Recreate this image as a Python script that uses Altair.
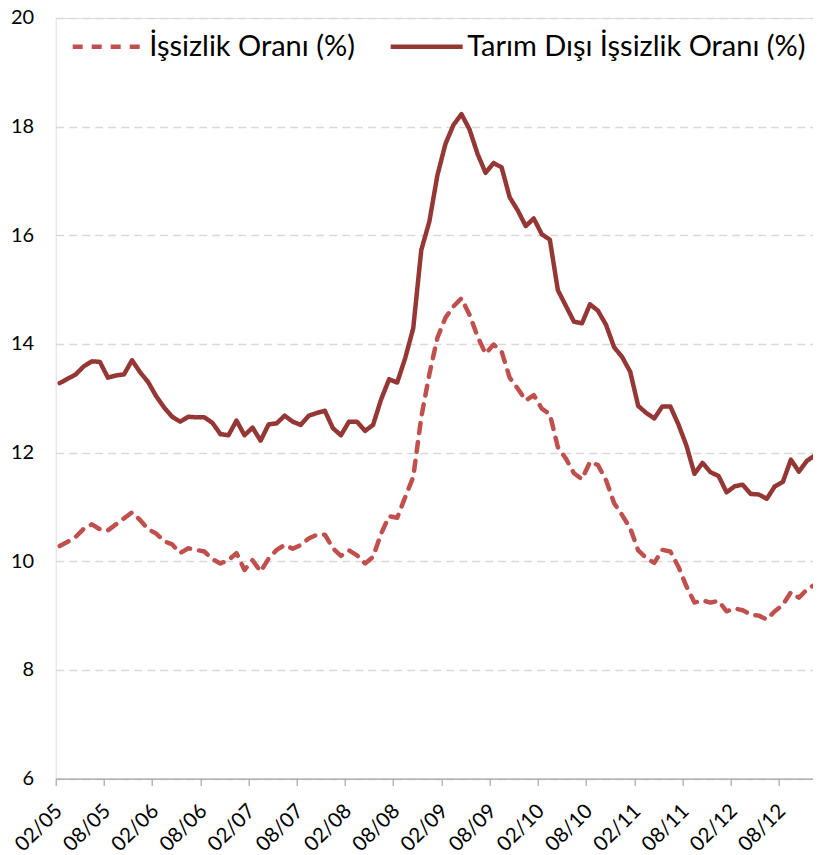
import altair as alt
import pandas as pd

TICK_LABELS = ["02/05", "08/05", "02/06", "08/06", "02/07", "08/07", "02/08", "08/08",
               "02/09", "08/09", "02/10", "08/10", "02/11", "08/11", "02/12", "08/12"]

SERIES = ["İşsizlik Oranı (%)", "Tarım Dışı İşsizlik Oranı (%)"]

ISSIZLIK = [10.28, 10.36, 10.45, 10.60, 10.68, 10.59, 10.57, 10.68, 10.79, 10.90,
            10.76, 10.59, 10.51, 10.37, 10.31, 10.15, 10.24, 10.21, 10.18, 10.04,
            9.96, 10.02, 10.15, 9.84, 10.02, 9.81, 10.05, 10.21, 10.30, 10.23,
            10.30, 10.42, 10.49, 10.49, 10.24, 10.10, 10.20, 10.11, 9.96, 10.08,
            10.51, 10.83, 10.80, 11.18, 11.55, 12.65, 13.44, 14.11, 14.48, 14.69,
            14.84, 14.54, 14.14, 13.82, 13.99, 13.86, 13.38, 13.18, 12.96, 13.06,
            12.81, 12.71, 12.10, 11.89, 11.62, 11.51, 11.83, 11.77, 11.49, 11.07,
            10.85, 10.61, 10.20, 10.06, 9.97, 10.21, 10.18, 9.90, 9.54, 9.24,
            9.28, 9.24, 9.27, 9.08, 9.13, 9.10, 9.02, 9.00, 8.93, 9.08,
            9.20, 9.43, 9.33, 9.48, 9.57]

TARIM_DISI = [13.28, 13.36, 13.44, 13.59, 13.68, 13.67, 13.38, 13.42, 13.44, 13.70,
              13.48, 13.30, 13.04, 12.83, 12.66, 12.57, 12.66, 12.65, 12.65, 12.55,
              12.34, 12.32, 12.59, 12.32, 12.46, 12.22, 12.52, 12.54, 12.68, 12.57,
              12.51, 12.68, 12.73, 12.77, 12.45, 12.32, 12.57, 12.57, 12.40, 12.51,
              12.98, 13.35, 13.29, 13.74, 14.29, 15.73, 16.25, 17.10, 17.68, 18.03,
              18.23, 17.95, 17.50, 17.15, 17.33, 17.25, 16.70, 16.46, 16.17, 16.31,
              16.02, 15.92, 14.99, 14.70, 14.41, 14.38, 14.73, 14.61, 14.35, 13.94,
              13.76, 13.49, 12.86, 12.73, 12.63, 12.85, 12.85, 12.52, 12.13, 11.61,
              11.81, 11.64, 11.57, 11.27, 11.38, 11.41, 11.24, 11.23, 11.15, 11.38,
              11.46, 11.87, 11.65, 11.85, 11.95]

MONTHS = pd.date_range("2005-02-01", periods=len(ISSIZLIK), freq="MS").strftime("%m/%y").tolist()

rows = []
for s, vals in zip(SERIES, [ISSIZLIK, TARIM_DISI]):
    for i, v in enumerate(vals):
        rows.append({"i": i, "ay": MONTHS[i], "seri": s, "deger": v})
df = pd.DataFrame(rows)

tick_vals = [6 * k - 0.5 for k in range(len(TICK_LABELS))]
label_expr = "[" + ",".join("'%s'" % t for t in TICK_LABELS) + "][round((datum.value + 0.5) / 6)]"

FONT = "Lato"

legend = alt.Legend(
    title=None, orient="none", legendX=14.5, legendY=-10, direction="horizontal",
    symbolType="stroke", symbolSize=5184, symbolStrokeWidth=4.5,
    labelFont=FONT, labelFontSize=29, labelColor="#000000", labelOffset=2,
    columnPadding=26, padding=0, labelLimit=600,
)

chart = alt.Chart(df).mark_line(strokeWidth=4.5, strokeCap="round", strokeJoin="round").encode(
    x=alt.X("i:Q", scale=alt.Scale(domain=[-0.5, len(ISSIZLIK) - 0.5], nice=False, zero=False),
            axis=alt.Axis(values=tick_vals, labelExpr=label_expr, title=None, grid=False,
                          labelAngle=-45, labelAlign="right", labelBaseline="middle",
                          labelOverlap=False, labelBound=False,
                          labelOffset=3, labelPadding=22, tickSize=7, tickColor="#A6A6A6",
                          domainColor="#A6A6A6", domainWidth=1.2, tickWidth=1.2,
                          labelFont=FONT, labelFontSize=20.5, labelColor="#000000")),
    y=alt.Y("deger:Q", scale=alt.Scale(domain=[6, 20], nice=False, zero=False),
            axis=alt.Axis(values=[6, 8, 10, 12, 14, 16, 18, 20], title=None, domain=False,
                          ticks=False, grid=True, gridDash=[8, 5], gridColor="#D9D9D9",
                          gridWidth=1.3, labelPadding=22, labelFont=FONT, labelFontSize=20,
                          labelColor="#000000")),
    color=alt.Color("seri:N", scale=alt.Scale(domain=SERIES, range=["#C0504D", "#953735"]),
                    legend=legend),
    strokeDash=alt.StrokeDash("seri:N", scale=alt.Scale(domain=SERIES, range=[[10, 9], [1, 0]]),
                              legend=legend),
    tooltip=["ay:N", "seri:N", "deger:Q"],
).properties(
    width=763.3, height=760.6,
    autosize=alt.AutoSizeParams(type="none"),
    padding={"left": 47.7, "top": 10, "right": -6, "bottom": 76},
).configure_view(stroke=None).configure(background="white")

chart.save("out.html", embed_options={"renderer": "svg", "actions": False})
